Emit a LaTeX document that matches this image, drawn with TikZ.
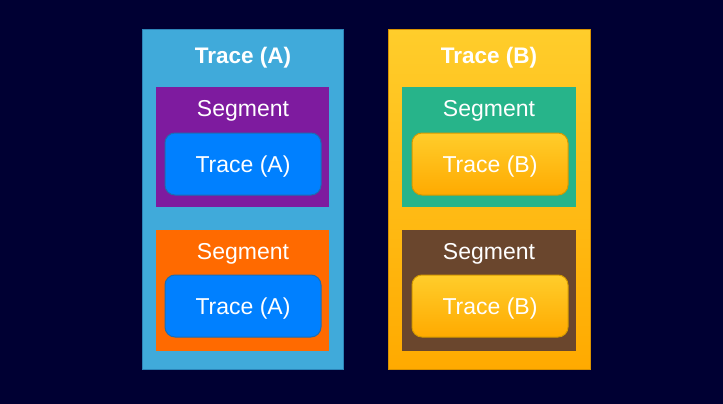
\documentclass[tikz,border=0pt]{standalone}
\usepackage{fontspec}
\setmainfont{Liberation Sans}
\usetikzlibrary{positioning}
\definecolor{bgNavy}{HTML}{000033}
\definecolor{skyFill}{HTML}{40AADA}
\definecolor{skyLine}{HTML}{2D84B8}
\definecolor{goldTop}{HTML}{FFCD2B}
\definecolor{goldBot}{HTML}{FFAA00}
\definecolor{goldLine}{HTML}{D99100}
\definecolor{segPurple}{HTML}{7E1B9F}
\definecolor{segOrange}{HTML}{FF6A00}
\definecolor{segTeal}{HTML}{27B48A}
\definecolor{segBrown}{HTML}{6A462D}
\definecolor{subBlue}{HTML}{0080FF}
\definecolor{subBlueLine}{HTML}{1C6DB3}
\definecolor{subGoldLine}{HTML}{D49A00}
\tikzstyle{traceBox}=[draw, line width=1pt, inner sep=0pt, outer sep=0pt,
  minimum width=201pt, minimum height=339pt]
\tikzstyle{segBox}=[inner sep=0pt, outer sep=0pt, minimum width=173pt, minimum height=120pt]
\tikzstyle{subTrace}=[draw, rounded corners=10pt, line width=1pt, inner sep=0pt,
  minimum width=156pt, minimum height=62pt, text=white, text height=16.5pt, text depth=0pt,
  font=\fontsize{23}{27}\selectfont]
\tikzstyle{boxText}=[text=white, inner sep=0pt, text height=16.5pt, text depth=0pt,
  font=\fontsize{23}{27}\selectfont]
\tikzstyle{titleText}=[text=white, inner sep=0pt, text height=16.1pt, text depth=0pt,
  font=\fontsize{22.5}{27}\selectfont\bfseries]

\begin{document}
\begin{tikzpicture}[x=1pt, y=-1pt]
      \fill[bgNavy] (0,0) rectangle (723,404);
      \useasboundingbox (0,0) rectangle (723,404);

      % trace A
      \node[traceBox, fill=skyFill, draw=skyLine] (traceA) at (242.5,199.5) {};
      \node[titleText] (titleA) at (243,55) {Trace (A)};
      \node[segBox, fill=segPurple] (segA1) at (242.5,147) {};
      \node[boxText] (segTextA1) at (243,108) {Segment};
      \node[subTrace, fill=subBlue, draw=subBlueLine] (subA1) at (243,164) {Trace (A)};
      \node[segBox, fill=segOrange, minimum height=121pt] (segA2) at (242.5,290.5) {};
      \node[boxText] (segTextA2) at (243,251) {Segment};
      \node[subTrace, fill=subBlue, draw=subBlueLine] (subA2) at (243,306) {Trace (A)};

      % trace B
      \node[traceBox, top color=goldTop, bottom color=goldBot, draw=goldLine,
        minimum width=202pt] (traceB) at (489,199.5) {};
      \node[titleText] (titleB) at (489,55) {Trace (B)};
      \node[segBox, fill=segTeal, minimum width=174pt] (segB1) at (489,147) {};
      \node[boxText] (segTextB1) at (489,108) {Segment};
      \node[subTrace, top color=goldTop, bottom color=goldBot, draw=subGoldLine] (subB1) at (490,164) {Trace (B)};
      \node[segBox, fill=segBrown, minimum width=174pt, minimum height=121pt] (segB2) at (489,290.5) {};
      \node[boxText] (segTextB2) at (489,251) {Segment};
      \node[subTrace, top color=goldTop, bottom color=goldBot, draw=subGoldLine] (subB2) at (490,306) {Trace (B)};
\end{tikzpicture}
\end{document}
